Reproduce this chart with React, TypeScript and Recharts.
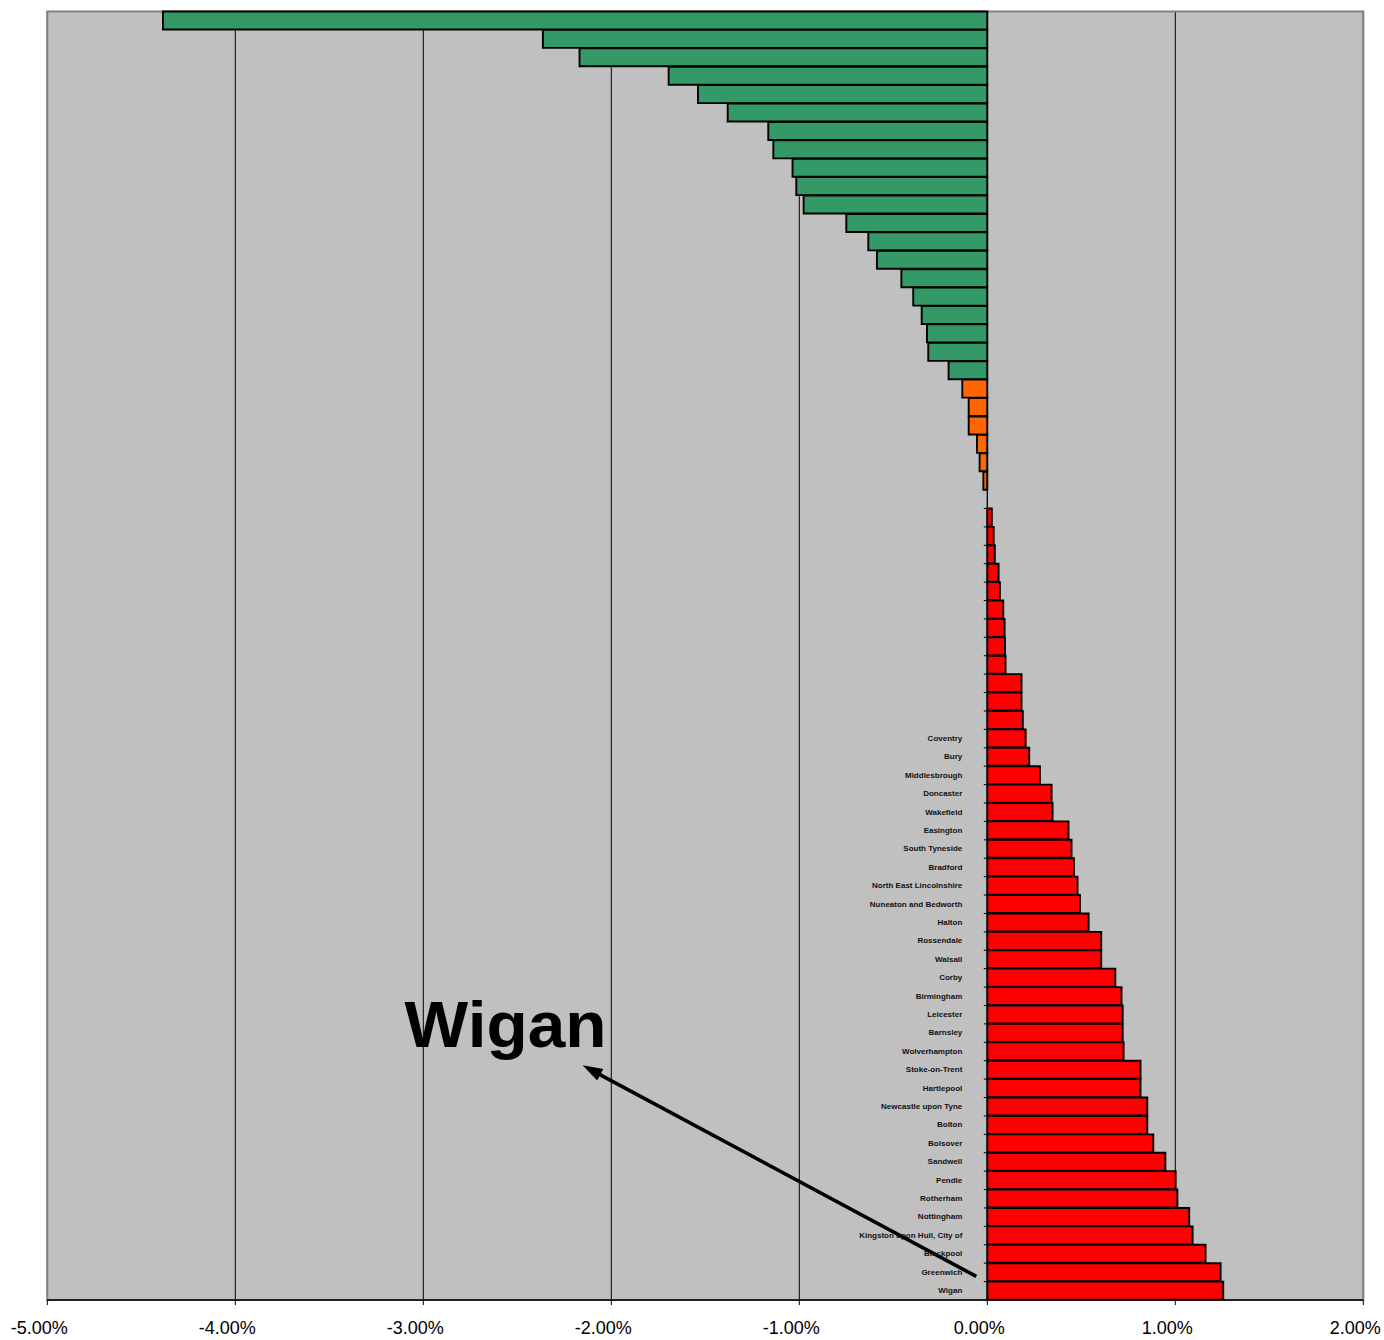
import React from 'react';
import {
  BarChart,
  Bar,
  XAxis,
  YAxis,
  CartesianGrid,
  Cell,
  LabelList,
  ReferenceLine,
  ReferenceArea,
} from 'recharts';

// ---- DATA (percent change, top row first) ----
const greenValues = [
  -4.385, -2.364, -2.169, -1.695, -1.539, -1.381, -1.165, -1.138, -1.036, -1.016,
  -0.977, -0.75, -0.633, -0.587, -0.457, -0.394, -0.349, -0.321, -0.314, -0.206,
];
const orangeValues = [-0.133, -0.099, -0.099, -0.055, -0.041, -0.021];
const gapValues: (number | null)[] = [null];
const redValues = [
  0.024, 0.034, 0.04, 0.06, 0.067, 0.085, 0.092, 0.094, 0.097, 0.182, 0.182, 0.189,
  0.204, 0.223, 0.28, 0.342, 0.347, 0.432, 0.448, 0.461, 0.48, 0.493, 0.539, 0.606,
  0.606, 0.681, 0.714, 0.72, 0.72, 0.725, 0.815, 0.815, 0.851, 0.851, 0.883, 0.947,
  1.002, 1.011, 1.074, 1.092, 1.161, 1.241, 1.255,
];
const labelledNames = [
  'Coventry', 'Bury', 'Middlesbrough', 'Doncaster', 'Wakefield', 'Easington',
  'South Tyneside', 'Bradford', 'North East Lincolnshire', 'Nuneaton and Bedworth',
  'Halton', 'Rossendale', 'Walsall', 'Corby', 'Birmingham', 'Leicester', 'Barnsley',
  'Wolverhampton', 'Stoke-on-Trent', 'Hartlepool', 'Newcastle upon Tyne', 'Bolton',
  'Bolsover', 'Sandwell', 'Pendle', 'Rotherham', 'Nottingham',
  'Kingston upon Hull, City of', 'Blackpool', 'Greenwich', 'Wigan',
];
const xTicks = [-5, -4, -3, -2, -1, 0, 1, 2];
const annotationText = 'Wigan';
const arrowFrom = { value: -0.0585, name: 'Greenwich' };
const arrowTo = { value: -2.142, name: 'Stoke-on-Trent' };

const GREEN = '#339966';
const ORANGE = '#FF6600';
const RED = '#FF0000';

type Row = { id: string; name: string; value: number | null; color: string };

const allValues: (number | null)[] = [...greenValues, ...orangeValues, ...gapValues, ...redValues];
const colorFor = (i: number) =>
  i < greenValues.length
    ? GREEN
    : i < greenValues.length + orangeValues.length
    ? ORANGE
    : RED;
const unnamedCount = allValues.length - labelledNames.length;
const rows: Row[] = allValues.map((v, i) => ({
  id: 'r' + (i + 1),
  name: i >= unnamedCount ? labelledNames[i - unnamedCount] : '',
  value: v,
  color: colorFor(i),
}));
const idOf = (name: string) => rows.find((r) => r.name === name)!.id;

const FONT = '"Liberation Sans", Arial, Helvetica, sans-serif';

const XTick = (props: any) => {
  const { x, y, payload } = props;
  return (
    <text x={x - 8} y={y + 27} textAnchor="middle" fontSize={18} fontFamily={FONT} fill="#000">
      {Number(payload.value).toFixed(2) + '%'}
    </text>
  );
};

const RowLabel = (props: any) => {
  const vb = props.viewBox ?? props;
  const { x, y, width, height } = vb;
  const row = rows.find((r) => r.id === props.value);
  if (!row || row.value == null || row.value <= 0) return null;
  const zeroX = width >= 0 ? x : x + width;
  return (
    <g>
      <line x1={zeroX - 3.5} x2={zeroX} y1={y} y2={y} stroke="#000" strokeWidth={1} />
      {row.name ? (
        <text
          x={zeroX - 25}
          y={y + height / 2}
          textAnchor="end"
          dominantBaseline="central"
          fontSize={8}
          fontWeight="bold"
          fontFamily={FONT}
          fill="#111"
        >
          {row.name}
        </text>
      ) : null}
    </g>
  );
};

const ArrowShape = (props: any) => {
  const x1 = props.x1;
  const y1 = props.y1 + 4;
  const x2 = props.x2 - 2;
  const y2 = props.y2 - 4.6;
  const dx = x2 - x1;
  const dy = y2 - y1;
  const len = Math.sqrt(dx * dx + dy * dy) || 1;
  const ux = dx / len;
  const uy = dy / len;
  const headLen = 20;
  const headHalf = 6.5;
  const bx = x2 - ux * headLen;
  const by = y2 - uy * headLen;
  const px = -uy;
  const py = ux;
  return (
    <g>
      <line x1={x1} y1={y1} x2={bx + ux * 2} y2={by + uy * 2} stroke="#000" strokeWidth={3.6} />
      <polygon
        points={`${x2},${y2} ${bx + px * headHalf},${by + py * headHalf} ${bx - px * headHalf},${by - py * headHalf}`}
        fill="#000"
      />
      <text
        x={x2 - 178}
        y={y2 - 18}
        fontSize={65}
        fontWeight="bold"
        fontFamily={FONT}
        fill="#000"
        textLength={202}
        lengthAdjust="spacingAndGlyphs"
      >
        {annotationText}
      </text>
    </g>
  );
};

export default function App() {
  return (
    <div style={{ position: 'absolute', left: 0, top: 0, width: 1384, height: 1340, background: '#fff' }}>
      <BarChart
        width={1384}
        height={1340}
        data={rows}
        layout="vertical"
        barCategoryGap={0}
        barGap={0}
        margin={{ top: 11.5, right: 20.7, left: 47.3, bottom: 10 }}
      >
        <CartesianGrid horizontal={false} vertical stroke="#000" strokeWidth={1} fill="#C0C0C0" fillOpacity={1} />
        <XAxis
          type="number"
          domain={[-5, 2]}
          ticks={xTicks}
          interval={0}
          height={30}
          tickSize={5}
          tickMargin={2}
          axisLine={{ stroke: '#000', strokeWidth: 1.5 }}
          tickLine={{ stroke: '#000', strokeWidth: 1 }}
          tick={<XTick />}
          allowDataOverflow
        />
        <YAxis type="category" dataKey="id" hide />
        <ReferenceArea
          x1={-5}
          x2={2}
          fill="none"
          stroke="#808080"
          strokeWidth={2}
          ifOverflow="visible"
        />
        <ReferenceLine x={0} stroke="#000" strokeWidth={1} />
        <Bar dataKey="value" isAnimationActive={false} stroke="#000" strokeWidth={1.9}>
          {rows.map((r) => (
            <Cell key={r.id} fill={r.color} />
          ))}
          <LabelList dataKey="id" content={<RowLabel />} />
        </Bar>
        <ReferenceLine
          segment={[
            { x: arrowFrom.value, y: idOf(arrowFrom.name) },
            { x: arrowTo.value, y: idOf(arrowTo.name) },
          ]}
          ifOverflow="visible"
          shape={<ArrowShape />}
        />
      </BarChart>
    </div>
  );
}
